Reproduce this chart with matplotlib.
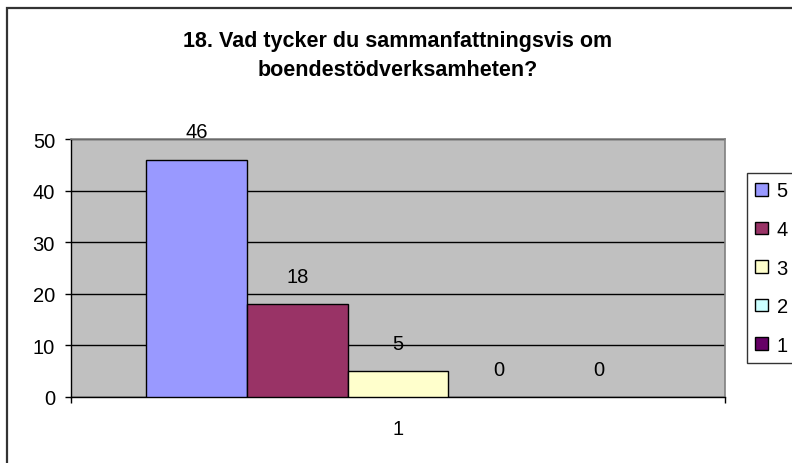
import matplotlib
matplotlib.use("Agg")
import matplotlib.pyplot as plt
from matplotlib.patches import Patch, Rectangle

plt.rcParams['font.family'] = ['Liberation Sans', 'DejaVu Sans']

title_lines = ["18. Vad tycker du sammanfattningsvis om", "boendestödverksamheten?"]
series = ['5', '4', '3', '2', '1']
values = [46, 18, 5, 0, 0]
colors = ['#9999FF', '#993366', '#FFFFCC', '#CCFFFF', '#660066']
category = '1'

fs = 14.5

fig = plt.figure(figsize=(7.92, 4.64), dpi=100)
ax = fig.add_axes([71 / 792, 1 - 398 / 464, 654 / 792, 258 / 464])
ax.set_facecolor('#C0C0C0')

w = 1.0 / 6.5
n = len(series)
for i, (s, v, c) in enumerate(zip(series, values, colors)):
    x = (i - (n - 1) / 2) * w
    if v > 0:
        ax.bar(x, v, width=w, color=c, edgecolor='black', linewidth=1.0, zorder=3)
    ax.annotate(str(v), (x, v), xytext=(0, 20), textcoords='offset points',
                ha='center', va='center', fontsize=fs, zorder=4)

ax.set_xlim(-0.5, 0.5)
ax.set_ylim(0, 50)
ax.set_yticks(range(0, 51, 10))
ax.yaxis.grid(True, color='black', linewidth=1.0, zorder=1)
ax.set_axisbelow(True)
ax.tick_params(axis='y', direction='out', length=4, width=1, labelsize=fs, pad=7.5)

ax.set_xticks([0])
ax.set_xticklabels([category], fontsize=fs)
ax.tick_params(axis='x', which='major', length=0, pad=16)
ax.set_xticks([-0.5, 0.5], minor=True)
ax.tick_params(axis='x', which='minor', direction='out', length=4, width=1)

for side in ['top', 'right']:
    ax.spines[side].set_color('#808080')
    ax.spines[side].set_linewidth(1.2)
for side in ['left', 'bottom']:
    ax.spines[side].set_color('black')
    ax.spines[side].set_linewidth(1.0)

fig.text(398 / 792, 1 - 46.7 / 464, title_lines[0], ha='center', va='baseline',
         fontsize=15.5, fontweight='bold')
fig.text(398 / 792, 1 - 75.7 / 464, title_lines[1], ha='center', va='baseline',
         fontsize=15.5, fontweight='bold')

handles = [Patch(facecolor=c, edgecolor='black', linewidth=1.0) for c in colors]
leg = fig.legend(handles, series, loc='upper left',
                 bbox_to_anchor=(747 / 792, 1 - 174 / 464, 80 / 792, 0.0),
                 mode='expand', borderaxespad=0, fontsize=fs, frameon=True,
                 fancybox=False, edgecolor='black', handlelength=0.6,
                 handleheight=0.6, handletextpad=0.45, labelspacing=0.97,
                 borderpad=0.42)
leg.get_frame().set_linewidth(1.0)

fig.patches.append(Rectangle((7 / 792, -0.1), 1.2, 1 - 9 / 464 + 0.1,
                             transform=fig.transFigure, fill=False,
                             edgecolor='#333333', linewidth=1.6))

fig.savefig('out.png', dpi=100)
